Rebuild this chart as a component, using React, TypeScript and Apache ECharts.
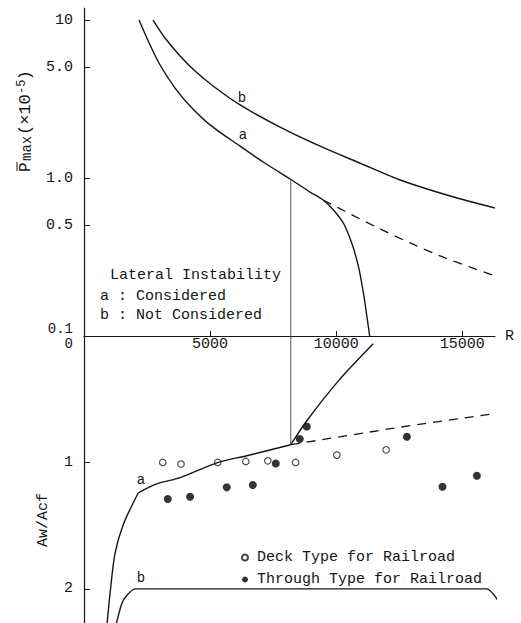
import React, { useEffect, useRef } from 'react';
import * as echarts from 'echarts';

const FONT = '"Liberation Mono", "DejaVu Sans Mono", monospace';
const INK = '#151515';

// x axis (R)
const xMin = 0;
const xMax = 16300;
const xInterval = 5000;

// top panel: Pmax (x10^-5), log scale
const topTickValues = [0.1, 0.5, 1, 5, 10];
const topTickLabels = ['0.1', '0.5', '1.0', '5.0', '10'];

// bottom panel: Aw/Acf (inverted)
const bottomTickValues = [0, 1, 2];
const bottomTickLabels = ['0', '1', '2'];

// top curves [R, Pmax]
const topCurveA: [number, number][] = [
  [2182, 10], [2619, 6.95], [3016, 5.19], [3611, 3.71], [4206, 2.86], [5000, 2.17],
  [6190, 1.59], [7182, 1.24], [8174, 0.986], [8968, 0.815], [9484, 0.726],
  [9893, 0.627], [10290, 0.517], [10621, 0.386], [10885, 0.275], [11084, 0.186],
  [11216, 0.134], [11330, 0.1],
];
const topCurveADashed: [number, number][] = [
  [9484, 0.726], [10555, 0.592], [11745, 0.476], [12936, 0.388], [14126, 0.321],
  [15316, 0.273], [16300, 0.24],
];
const topCurveB: [number, number][] = [
  [2738, 10], [3214, 7.69], [3809, 5.92], [4405, 4.75], [5119, 3.82], [6190, 2.9],
  [7777, 2.1], [9365, 1.59], [10952, 1.24], [12539, 0.971], [14523, 0.769], [16300, 0.646],
];
const topVertical: [number, number][] = [[8200, 0.1], [8200, 0.98]];

// bottom curves [R, Aw/Acf]
const bottomCurveA1: [number, number][] = [
  [905, 2.3], [1032, 2.04], [1230, 1.72], [1560, 1.49], [2155, 1.24],
];
const bottomCurveA2: [number, number][] = [
  [2155, 1.24], [2885, 1.17], [3810, 1.12], [5329, 1.0], [6456, 0.947], [8200, 0.86],
];
const bottomCurveA3: [number, number][] = [
  [8200, 0.86], [8837, 0.67], [10091, 0.355], [11468, 0.062],
];
const bottomCurveADashed: [number, number][] = [
  [8200, 0.86], [12400, 0.725], [16300, 0.613],
];
const bottomCurveB: [number, number][] = [
  [1250, 2.3], [1496, 2.118], [1694, 2.053], [2024, 2.0], [15975, 2.0], [16507, 2.118],
];
const bottomVertical: [number, number][] = [[8200, 0], [8200, 0.86]];

// data points [R, Aw/Acf]
const deckType: [number, number][] = [
  [3123, 1.0], [3849, 1.013], [5305, 1.0], [6416, 0.992], [7289, 0.987],
  [8392, 1.0], [10027, 0.942], [11983, 0.9],
];
const throughType: [number, number][] = [
  [3321, 1.289], [4206, 1.271], [5662, 1.197], [6694, 1.179], [7607, 1.008],
  [8559, 0.815], [8837, 0.716], [12805, 0.797], [14217, 1.192], [15582, 1.105],
];

const legendNames = ['Deck Type for Railroad', 'Through Type for Railroad'];

const lg = (pts: [number, number][]) => pts.map(([x, y]) => [x, Math.log10(y)]);

export default function App() {
  const ref = useRef<HTMLDivElement>(null);
  useEffect(() => {
    if (!ref.current) return;
    const chart = echarts.init(ref.current, undefined, { renderer: 'svg' });
    const lineBase = {
      type: 'line' as const,
      showSymbol: false,
      symbol: 'none',
      lineStyle: { color: INK, width: 1.4 },
      silent: true,
    };
    const topTicksLog = topTickValues.map((v) => Math.log10(v));
    const txt = (text: string, x: number, y: number, size = 15, align = 'left') => ({
      type: 'text',
      x,
      y,
      style: { text, fontFamily: FONT, fontSize: size, fill: INK, align, verticalAlign: 'middle' },
    });
    chart.setOption({
      animation: false,
      backgroundColor: '#fff',
      grid: [
        { left: 84, right: 26, top: 8, height: 328 },
        { left: 84, right: 26, top: 336, height: 287 },
      ],
      xAxis: [
        {
          gridIndex: 0,
          type: 'value',
          min: xMin,
          max: xMax,
          interval: xInterval,
          name: 'R',
          nameLocation: 'end',
          nameGap: 10,
          nameTextStyle: { fontFamily: FONT, fontSize: 15, color: INK },
          axisLine: { onZero: false, lineStyle: { color: INK, width: 1.2 } },
          axisTick: { inside: true, length: 5, lineStyle: { color: INK } },
          axisLabel: {
            margin: 1,
            fontFamily: FONT,
            fontSize: 15,
            color: INK,
            formatter: (v: number) => (v === 0 ? '' : String(v)),
          },
          splitLine: { show: false },
        },
        {
          gridIndex: 1,
          type: 'value',
          min: xMin,
          max: xMax,
          interval: xInterval,
          show: false,
        },
      ],
      yAxis: [
        {
          gridIndex: 0,
          type: 'value',
          min: -1,
          max: 1.076,
          axisLine: { show: true, onZero: false, lineStyle: { color: INK, width: 1.2 } },
          axisTick: { show: true, inside: true, length: 6, customValues: topTicksLog, lineStyle: { color: INK } },
          axisLabel: {
            customValues: topTicksLog,
            margin: 11,
            fontFamily: FONT,
            fontSize: 15,
            color: INK,
            formatter: (v: number) => {
              const i = topTicksLog.findIndex((t) => Math.abs(t - v) < 1e-6);
              if (i < 0) return '';
              return i === 0 ? `{up|${topTickLabels[i]}}` : topTickLabels[i];
            },
            rich: { up: { fontFamily: FONT, fontSize: 14, color: INK, padding: [0, 0, 14, 0] } },
          },
          splitLine: { show: false },
        },
        {
          gridIndex: 1,
          type: 'value',
          inverse: true,
          min: 0,
          max: 2.27,
          axisLine: { show: true, onZero: false, lineStyle: { color: INK, width: 1.2 } },
          axisTick: { show: true, inside: true, length: 6, customValues: [1, 2], lineStyle: { color: INK } },
          axisLabel: {
            customValues: bottomTickValues,
            margin: 11,
            fontFamily: FONT,
            fontSize: 15,
            color: INK,
            formatter: (v: number) => {
              const i = bottomTickValues.findIndex((t) => Math.abs(t - v) < 1e-6);
              if (i < 0) return '';
              return i === 0 ? `{down|${bottomTickLabels[i]}}` : bottomTickLabels[i];
            },
            rich: { down: { fontFamily: FONT, fontSize: 14, color: INK, padding: [16, 0, 0, 0] } },
          },
          splitLine: { show: false },
        },
      ],
      legend: {
        data: legendNames,
        orient: 'vertical',
        left: 236,
        top: 545,
        itemWidth: 6,
        itemHeight: 6,
        itemGap: 7,
        selectedMode: false,
        textStyle: { fontFamily: FONT, fontSize: 15, color: INK, padding: [0, 0, 0, 4] },
      },
      series: [
        { ...lineBase, xAxisIndex: 0, yAxisIndex: 0, smooth: 0.3, data: lg(topCurveA) },
        { ...lineBase, xAxisIndex: 0, yAxisIndex: 0, smooth: 0.3, data: lg(topCurveADashed), lineStyle: { color: INK, width: 1.3, type: [9, 7] } },
        { ...lineBase, xAxisIndex: 0, yAxisIndex: 0, smooth: 0.3, data: lg(topCurveB) },
        { ...lineBase, xAxisIndex: 0, yAxisIndex: 0, data: lg(topVertical), lineStyle: { color: '#444', width: 0.9 } },
        { ...lineBase, xAxisIndex: 1, yAxisIndex: 1, smooth: 0.3, clip: false, data: bottomCurveA1 },
        { ...lineBase, xAxisIndex: 1, yAxisIndex: 1, smooth: 0.3, clip: false, data: bottomCurveA2 },
        { ...lineBase, xAxisIndex: 1, yAxisIndex: 1, smooth: 0.3, clip: false, data: bottomCurveA3 },
        { ...lineBase, xAxisIndex: 1, yAxisIndex: 1, clip: false, data: bottomCurveADashed, lineStyle: { color: INK, width: 1.3, type: [9, 7] } },
        { ...lineBase, xAxisIndex: 1, yAxisIndex: 1, smooth: 0.2, clip: false, data: bottomCurveB },
        { ...lineBase, xAxisIndex: 1, yAxisIndex: 1, data: bottomVertical, lineStyle: { color: '#444', width: 0.9 } },
        {
          name: legendNames[0],
          type: 'scatter',
          xAxisIndex: 1,
          yAxisIndex: 1,
          symbol: 'circle',
          symbolSize: 6.5,
          itemStyle: { color: '#fff', borderColor: INK, borderWidth: 1.1 },
          data: deckType,
        },
        {
          name: legendNames[1],
          type: 'scatter',
          xAxisIndex: 1,
          yAxisIndex: 1,
          symbol: 'circle',
          symbolSize: 8,
          itemStyle: { color: '#000' },
          data: throughType,
        },
      ],
      graphic: [
        txt('Lateral Instability', 110, 275),
        txt('a : Considered', 100, 296),
        txt('b : Not Considered', 100, 315),
        txt('b', 242, 98, 14, 'center'),
        txt('a', 243, 135, 14, 'center'),
        txt('a', 141, 480, 14, 'center'),
        txt('b', 141, 578, 14, 'center'),
        {
          type: 'text',
          x: 43,
          y: 520,
          rotation: Math.PI / 2,
          style: { text: 'Aw/Acf', fontFamily: FONT, fontSize: 15, fill: INK, align: 'center', verticalAlign: 'middle' },
        },
        {
          type: 'group',
          x: 34,
          y: 172,
          rotation: Math.PI / 2,
          children: [
            { type: 'text', x: 0, y: 0, style: { text: 'P', fontFamily: FONT, fontSize: 16, fill: INK, verticalAlign: 'bottom' } },
            { type: 'line', shape: { x1: 1, y1: -17, x2: 10, y2: -17 }, style: { stroke: INK, lineWidth: 1 } },
            { type: 'text', x: 11, y: 0, style: { text: 'max', fontFamily: FONT, fontSize: 14, fill: INK, verticalAlign: 'bottom' } },
            { type: 'text', x: 37, y: 0, style: { text: '(×10', fontFamily: FONT, fontSize: 17, fill: INK, verticalAlign: 'bottom' } },
            { type: 'text', x: 78, y: -6, style: { text: '-5', fontFamily: FONT, fontSize: 12, fill: INK, verticalAlign: 'bottom' } },
            { type: 'text', x: 92, y: 0, style: { text: ')', fontFamily: FONT, fontSize: 16, fill: INK, verticalAlign: 'bottom' } },
          ],
        },
      ],
    });
    return () => chart.dispose();
  }, []);
  return (
    <div
      ref={ref}
      style={{ position: 'fixed', left: 0, top: 0, width: 521, height: 623, background: '#fff' }}
    />
  );
}
